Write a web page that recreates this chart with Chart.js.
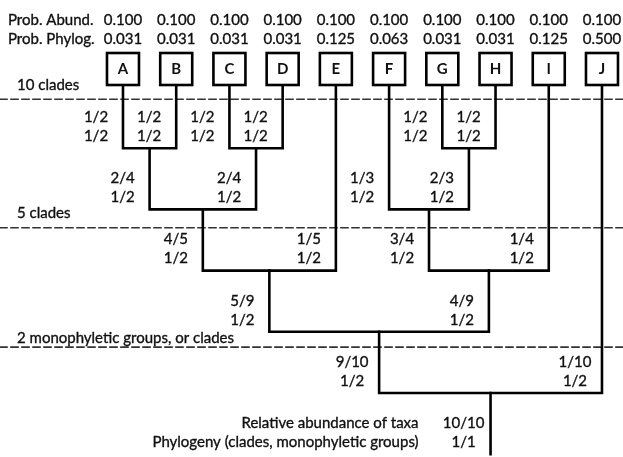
<!DOCTYPE html>
<html>
<head>
<meta charset="utf-8">
<script src="https://cdn.jsdelivr.net/npm/chart.js@4/dist/chart.umd.min.js"></script>
<style>
    html, body { margin: 0; padding: 0; background: #fff; }
    #wrap { width: 623px; height: 457px; }
</style>
</head>
<body>
<div id="wrap"><canvas id="tree" width="623" height="457"></canvas></div>
<script>
// ── 資料 ──
const taxa       = ['A', 'B', 'C', 'D', 'E', 'F', 'G', 'H', 'I', 'J'];
const probAbund  = [0.100, 0.100, 0.100, 0.100, 0.100, 0.100, 0.100, 0.100, 0.100, 0.100];
const probPhylog = [0.031, 0.031, 0.031, 0.031, 0.125, 0.063, 0.031, 0.031, 0.125, 0.500];

// 內部節點：左子、右子、深度
const nodeNames = ['AB', 'CD', 'ABCD', 'ABCDE', 'GH', 'FGH', 'FGHI', 'ABCDEFGHI', 'ROOT'];
const nodeLeft  = ['A',  'C',  'AB',   'ABCD',  'G',  'F',   'FGH',  'ABCDE',     'ABCDEFGHI'];
const nodeRight = ['B',  'D',  'CD',   'E',     'H',  'GH',  'I',    'FGHI',      'J'];
const nodeDepth = [1, 1, 2, 3, 1, 2, 3, 4, 5];

// 分支上的分數（相對豐度 / 系統發生）
const leftAbund   = ['1/2', '1/2', '2/4', '4/5', '1/2', '1/3', '3/4', '5/9', '9/10'];
const rightAbund  = ['1/2', '1/2', '2/4', '1/5', '1/2', '2/3', '1/4', '4/9', '1/10'];
const leftPhylog  = ['1/2', '1/2', '1/2', '1/2', '1/2', '1/2', '1/2', '1/2', '1/2'];
const rightPhylog = ['1/2', '1/2', '1/2', '1/2', '1/2', '1/2', '1/2', '1/2', '1/2'];

const rootStemEnd = 6;
const rootAbund   = '10/10';
const rootPhylog  = '1/1';
const rootTexts   = ['Relative abundance of taxa', 'Phylogeny (clades, monophyletic groups)'];

const cutDepths   = [0.2, 2.3, 4.25];
const cutLabels   = ['10 clades', '5 clades', '2 monophyletic groups, or clades'];
const headLabels  = ['Prob. Abund.', 'Prob. Phylog.'];

// ── 版面 ──
const X_MIN = -2.311, X_MAX = 9.395;
const Y_MIN = -1.4216, Y_MAX = 6.046;
const FONT  = '15px Lato, "Open Sans", sans-serif';
const INK   = '#111';

// ── 節點位置 ──
const pos = {};
taxa.forEach((t, i) => { pos[t] = { x: i, d: 0 }; });
nodeNames.forEach((n, i) => {
    const L = pos[nodeLeft[i]], R = pos[nodeRight[i]];
    pos[n] = { x: (L.x + R.x) / 2, d: nodeDepth[i] };
});

// ── 資料集 ──
const datasets = [];
nodeNames.forEach((n, i) => {
    const L = pos[nodeLeft[i]], R = pos[nodeRight[i]];
    datasets.push({
        data: [
            { x: L.x, y: L.d }, { x: L.x, y: nodeDepth[i] },
            { x: R.x, y: nodeDepth[i] }, { x: R.x, y: R.d }
        ],
        borderColor: '#000', borderWidth: 2.6, order: 0
    });
});
datasets.push({
    data: [{ x: pos.ROOT.x, y: pos.ROOT.d }, { x: pos.ROOT.x, y: rootStemEnd }],
    borderColor: '#000', borderWidth: 2.6, order: 0
});
cutDepths.forEach(c => {
    datasets.push({
        data: [{ x: X_MIN, y: c }, { x: X_MAX, y: c }],
        borderColor: '#333', borderWidth: 1.6, borderDash: [7, 4], order: 1
    });
});

// ── 文字與方框 ──
const treeText = {
    id: 'treeText',
    afterDatasetsDraw(chart) {
        const c  = chart.ctx;
        const xs = chart.scales.x, ys = chart.scales.y;
        const y0 = ys.getPixelForValue(0);
        c.save();
        c.font = FONT;
        c.fillStyle = INK;
        c.strokeStyle = INK;
        c.lineWidth = 0.35;
        c.textBaseline = 'middle';
        const txt = (s, x, y) => { c.fillText(s, x, y); c.strokeText(s, x, y); };

        // 上方機率
        c.textAlign = 'left';
        txt(headLabels[0], 8, y0 - 67);
        txt(headLabels[1], 8, y0 - 48);
        c.textAlign = 'center';
        taxa.forEach((t, i) => {
            const cx = xs.getPixelForValue(i);
            txt(probAbund[i].toFixed(3), cx, y0 - 67);
            txt(probPhylog[i].toFixed(3), cx, y0 - 48);
            c.save();
            c.strokeStyle = '#000';
            c.lineWidth = 2.6;
            c.strokeRect(cx - 16, y0 - 34, 32, 32);
            c.font = 'bold 15px Lato, sans-serif';
            c.fillText(t, cx, y0 - 18);
            c.restore();
        });

        // 分層標籤
        const cutOff = [14, 15, 9];
        c.textAlign = 'left';
        cutDepths.forEach((d, i) => {
            txt(cutLabels[i], 17, ys.getPixelForValue(d) - cutOff[i]);
        });

        // 分支分數
        c.textAlign = 'center';
        const branchLabel = (child, parentDepth, a, p) => {
            const lx = xs.getPixelForValue(pos[child].x) - 27;
            const by = ys.getPixelForValue(parentDepth);
            txt(a, lx, by - 31);
            txt(p, lx, by - 12);
        };
        nodeNames.forEach((n, i) => {
            branchLabel(nodeLeft[i], nodeDepth[i], leftAbund[i], leftPhylog[i]);
            branchLabel(nodeRight[i], nodeDepth[i], rightAbund[i], rightPhylog[i]);
        });
        branchLabel('ROOT', rootStemEnd, rootAbund, rootPhylog);

        const rx = xs.getPixelForValue(pos.ROOT.x);
        const ry = ys.getPixelForValue(rootStemEnd);
        c.textAlign = 'right';
        txt(rootTexts[0], rx - 72, ry - 31);
        txt(rootTexts[1], rx - 72, ry - 12);
        c.restore();
    }
};

new Chart(document.getElementById('tree').getContext('2d'), {
    type: 'scatter',
    data: { datasets: datasets.map(d => Object.assign({
        showLine: true, pointRadius: 0, pointHoverRadius: 0, fill: false, tension: 0,
        borderJoinStyle: 'miter', borderCapStyle: 'square'
    }, d)) },
    options: {
        responsive: false,
        animation: false,
        events: [],
        layout: { padding: 0 },
        plugins: { legend: { display: false }, tooltip: { enabled: false } },
        scales: {
            x: { type: 'linear', display: false, min: X_MIN, max: X_MAX },
            y: { type: 'linear', display: false, min: Y_MIN, max: Y_MAX, reverse: true }
        }
    },
    plugins: [treeText]
});
</script>
</body>
</html>
